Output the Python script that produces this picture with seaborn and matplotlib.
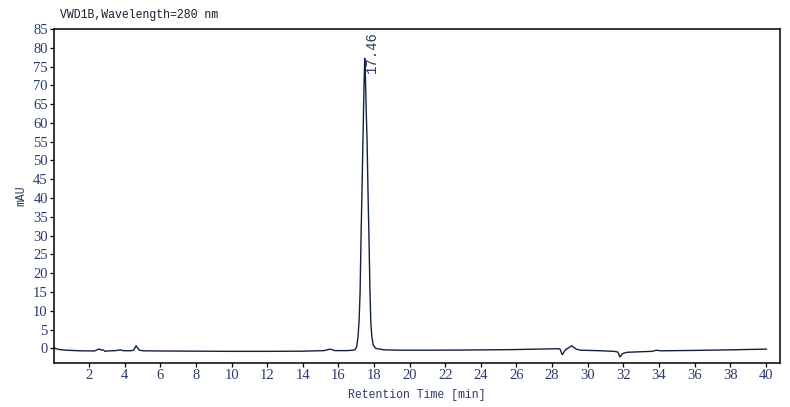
import matplotlib
matplotlib.use('Agg')
import matplotlib.pyplot as plt
import numpy as np
import pandas as pd
import seaborn as sns

# retention time [min] and signal [mAU]
tempo = [0.03, 0.3, 0.75, 1.5, 2.3, 2.5, 2.6, 2.7, 2.8, 2.9, 3.0, 3.5, 3.75, 3.9,
         4.3, 4.5, 4.64, 4.8, 5.0, 6.0, 8.0, 10.0, 12.0, 14.0, 15.2, 15.53, 15.8,
         16.5, 16.8, 16.95, 17.03, 17.10, 17.16, 17.22, 17.27, 17.33, 17.38, 17.44,
         17.48, 17.52, 17.57, 17.61, 17.67, 17.72, 17.77, 17.82, 17.88, 17.96, 18.1,
         18.3, 18.6, 19.5, 21.0, 23.0, 25.6, 28.3, 28.45, 28.57, 28.75, 29.1, 29.35,
         29.6, 30.5, 31.5, 31.7, 31.81, 31.95, 32.2, 33.0, 33.6, 33.87, 34.1, 36.0,
         38.0, 40.05]
sinal = [0.1, -0.3, -0.5, -0.65, -0.7, -0.3, -0.2, -0.5, -0.4, -0.8, -0.7, -0.6, -0.4, -0.6,
         -0.65, -0.5, 0.7, -0.4, -0.65, -0.7, -0.75, -0.8, -0.8, -0.75, -0.6, -0.2, -0.6,
         -0.6, -0.5, -0.3, 0.5, 3.0, 7.0, 15.0, 29.0, 43.0, 55.5, 70.0,
         77.2, 72.0, 62.0, 55.5, 40.0, 29.0, 16.0, 7.0, 3.0, 0.8, 0.0,
         -0.2, -0.4, -0.5, -0.5, -0.45, -0.35, -0.1, -0.2, -1.7, -0.4, 0.7, -0.2,
         -0.5, -0.6, -0.8, -1.0, -2.3, -1.4, -1.05, -0.9, -0.8, -0.5, -0.65, -0.55,
         -0.4, -0.2]

pico_tempo = 17.46
pico_altura = 77.2

x_ticks = list(range(2, 41, 2))
y_ticks = list(range(0, 86, 5))

df = pd.DataFrame({'tempo': tempo, 'sinal': sinal})

sns.set_style('white')
cor_tick = '#2b3a67'

fig, ax = plt.subplots(figsize=(7.9, 4.07), dpi=100)
fig.subplots_adjust(left=54/790, right=780/790, top=1-29/407, bottom=1-363/407)

sns.lineplot(data=df, x='tempo', y='sinal', ax=ax, color='#14213a', linewidth=1.0)

ax.set_xlim(0.03, 40.8)
ax.set_ylim(-3.9, 85)
ax.set_xticks(x_ticks)
ax.set_yticks(y_ticks)
ax.tick_params(axis='both', direction='out', length=3, width=0.9, color='black',
               labelsize=10.5, labelcolor=cor_tick, pad=1.5,
               bottom=True, left=True)
for lab in ax.get_xticklabels() + ax.get_yticklabels():
    lab.set_family('Liberation Serif')
for sp in ax.spines.values():
    sp.set_visible(True)
    sp.set_color('black')
    sp.set_linewidth(1.1)

ax.set_xlabel('Retention Time [min]', family='Liberation Mono', fontsize=8.3,
              color=cor_tick, labelpad=5)
ax.set_ylabel('mAU', family='Liberation Mono', fontsize=8.3, color=cor_tick, labelpad=4)

fig.text(60/790, 1-15/407, 'VWD1B,Wavelength=280 nm', family='Liberation Mono',
         fontsize=8.3, color='#1a1a2e', ha='left', va='center')

ax.text(pico_tempo + 0.42, pico_altura - 4, '17.46', rotation=90, ha='center', va='bottom',
        family='Liberation Mono', fontsize=10, color=cor_tick)

fig.savefig('out.png', dpi=100)
